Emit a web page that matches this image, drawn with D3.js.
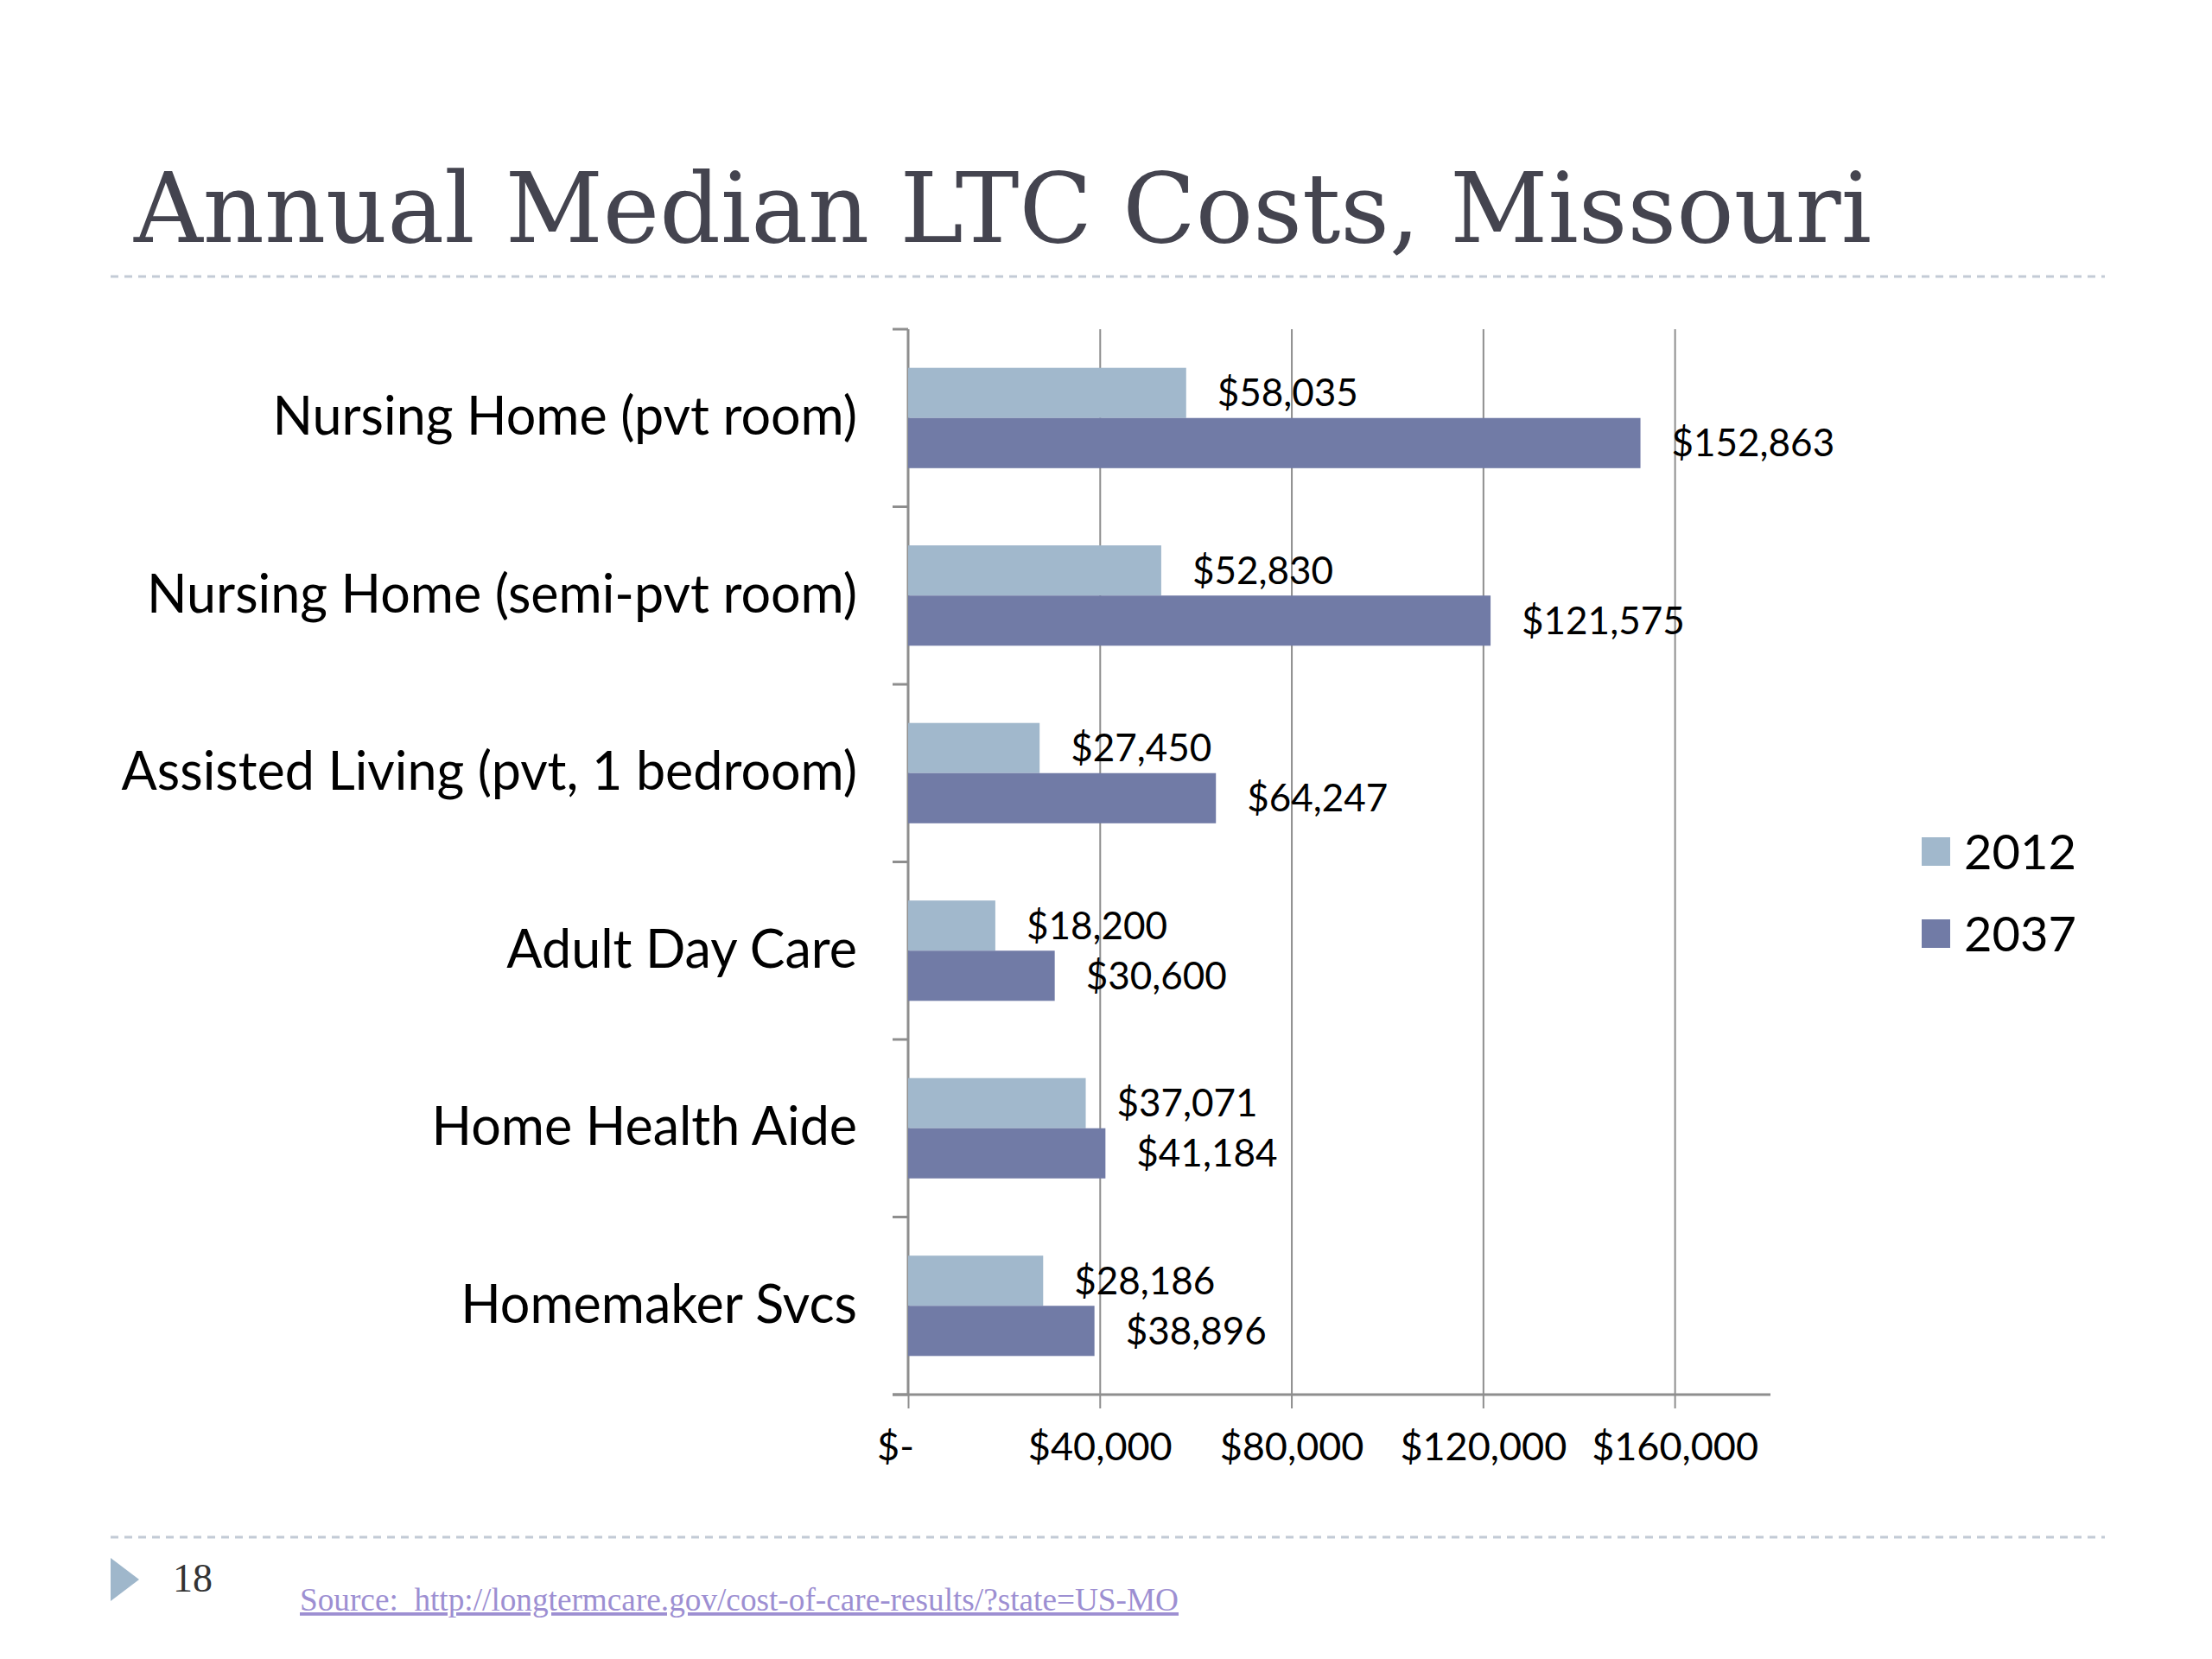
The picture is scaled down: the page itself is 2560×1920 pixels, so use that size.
<!DOCTYPE html>
<html>
<head>
<meta charset="utf-8">
<script src="https://cdn.jsdelivr.net/npm/d3@7"></script>
<style>
  body { margin: 0; background: #fff; }
</style>
</head>
<body>
<div id="chart"></div>
<script>
// Chart data
const categories = ['Nursing Home (pvt room)', 'Nursing Home (semi-pvt room)', 'Assisted Living (pvt, 1 bedroom)', 'Adult Day Care', 'Home Health Aide', 'Homemaker Svcs'];
const seriesNames = ['2012', '2037'];
const values2012 = [58035, 52830, 27450, 18200, 37071, 28186];
const values2037 = [152863, 121575, 64247, 30600, 41184, 38896];
const xTickValues = [0, 40000, 80000, 120000, 160000];
const xTickLabels = ['$-', '$40,000', '$80,000', '$120,000', '$160,000'];
const seriesColors = ['#a1b8cc', '#717ba6'];

// Svg and plot area
let svgWidth = 2560;
let svgHeight = 1920;
let plot = { left: 1051, right: 2049, top: 381, bottom: 1614 };

let svg = d3.select('#chart').append('svg')
    .attr('width', svgWidth)
    .attr('height', svgHeight);

// Title and slide decoration
svg.append('text')
    .attr('x', 155)
    .attr('y', 280)
    .attr('textLength', 2011)
    .attr('lengthAdjust', 'spacingAndGlyphs')
    .style('font-family', '"DejaVu Serif"')
    .style('font-size', '112px')
    .style('fill', '#44444f')
    .text('Annual Median LTC Costs, Missouri');

[320, 1779].forEach(y => {
    svg.append('line')
        .attr('x1', 128).attr('x2', 2436)
        .attr('y1', y).attr('y2', y)
        .style('stroke', '#c3cbd6')
        .style('stroke-width', 3)
        .style('stroke-dasharray', '9,7');
});

svg.append('path')
    .attr('d', 'M128,1803 L161,1828 L128,1853 Z')
    .style('fill', '#9fb7cb');

svg.append('text')
    .attr('x', 200).attr('y', 1842)
    .style('font-family', '"Liberation Serif"')
    .style('font-size', '46px')
    .style('fill', '#333')
    .text('18');

svg.append('text')
    .attr('x', 347).attr('y', 1864)
    .attr('textLength', 1017)
    .attr('lengthAdjust', 'spacingAndGlyphs')
    .style('white-space', 'pre')
    .style('font-family', '"Liberation Serif"')
    .style('font-size', '38px')
    .style('fill', '#9d8fd2')
    .style('text-decoration', 'underline')
    .text('Source:  http://longtermcare.gov/cost-of-care-results/?state=US-MO');

// Scales
let xScale = d3.scaleLinear()
    .domain([0, 180000])
    .range([plot.left, plot.right]);
let yScale = d3.scaleBand()
    .domain(categories)
    .range([plot.top, plot.bottom])
    .padding(0);
let step = yScale.step();
let subScale = d3.scaleBand()
    .domain(seriesNames)
    .range([step * 0.2175, step * 0.7825]);
let color = d3.scaleOrdinal().domain(seriesNames).range(seriesColors);

// Gridlines
let grid = svg.append('g')
    .attr('transform', `translate(0, ${plot.bottom})`)
    .call(d3.axisBottom(xScale)
        .tickValues(xTickValues.slice(1))
        .tickSize(-(plot.bottom - plot.top))
        .tickFormat(''));
grid.select('.domain').remove();
grid.selectAll('line').style('stroke', '#8e8e8e').style('stroke-width', 2);

// X axis
let xAxis = svg.append('g')
    .attr('transform', `translate(0, ${plot.bottom})`)
    .call(d3.axisBottom(xScale)
        .tickValues(xTickValues)
        .tickSize(16)
        .tickPadding(28)
        .tickFormat((d, i) => xTickLabels[i]));
xAxis.select('.domain').remove();
xAxis.selectAll('line').style('stroke', '#8e8e8e').style('stroke-width', 2);
xAxis.selectAll('text')
    .style('font-family', 'Lato')
    .style('font-size', '45px')
    .style('fill', '#000')
    .attr('dx', (d, i) => i === 0 ? -15 : 0);
svg.append('line')
    .attr('x1', plot.left - 18).attr('x2', plot.right)
    .attr('y1', plot.bottom).attr('y2', plot.bottom)
    .style('stroke', '#8e8e8e')
    .style('stroke-width', 3);

// Y axis with category boundary ticks
let yAxis = svg.append('g')
    .attr('transform', `translate(${plot.left}, 0)`)
    .call(d3.axisLeft(yScale).tickSize(0).tickPadding(59));
yAxis.select('.domain').remove();
yAxis.selectAll('text')
    .style('font-family', 'Lato')
    .style('font-size', '61px')
    .style('fill', '#000');
svg.append('line')
    .attr('x1', plot.left).attr('x2', plot.left)
    .attr('y1', plot.top).attr('y2', plot.bottom)
    .style('stroke', '#8e8e8e')
    .style('stroke-width', 3);
svg.selectAll('line.catTick')
    .data(categories.map(c => yScale(c)).concat([plot.bottom]))
    .enter().append('line')
    .attr('class', 'catTick')
    .attr('x1', plot.left - 18).attr('x2', plot.left)
    .attr('y1', d => d).attr('y2', d => d)
    .style('stroke', '#8e8e8e')
    .style('stroke-width', 3);

// Bars
let rows = categories.map((c, i) => ({
    category: c,
    values: [
        { series: '2012', value: values2012[i] },
        { series: '2037', value: values2037[i] }
    ]
}));

let groups = svg.selectAll('g.catGroup')
    .data(rows).enter()
    .append('g')
    .attr('class', 'catGroup')
    .attr('transform', d => `translate(0, ${yScale(d.category)})`);

groups.selectAll('rect')
    .data(d => d.values).enter()
    .append('rect')
    .attr('x', xScale(0))
    .attr('y', d => subScale(d.series))
    .attr('width', d => xScale(d.value) - xScale(0))
    .attr('height', subScale.bandwidth())
    .style('fill', d => color(d.series));

// Value labels
let money = d3.format('$,');
groups.selectAll('text.valueLabel')
    .data(d => d.values).enter()
    .append('text')
    .attr('class', 'valueLabel')
    .attr('x', d => xScale(d.value) + 36)
    .attr('y', d => subScale(d.series) + subScale.bandwidth() / 2)
    .attr('dy', '0.35em')
    .style('font-family', 'Lato')
    .style('font-size', '44px')
    .style('fill', '#000')
    .text(d => money(d.value));

// Legend
let legend = svg.selectAll('g.legendItem')
    .data(seriesNames).enter()
    .append('g')
    .attr('class', 'legendItem')
    .attr('transform', (d, i) => `translate(2224, ${969 + i * 95})`);
legend.append('rect')
    .attr('width', 33).attr('height', 33)
    .style('fill', d => color(d));
legend.append('text')
    .attr('x', 49).attr('y', 17)
    .attr('dy', '0.36em')
    .style('font-family', 'Lato')
    .style('font-size', '56px')
    .style('fill', '#000')
    .text(d => d);
</script>
</body>
</html>
